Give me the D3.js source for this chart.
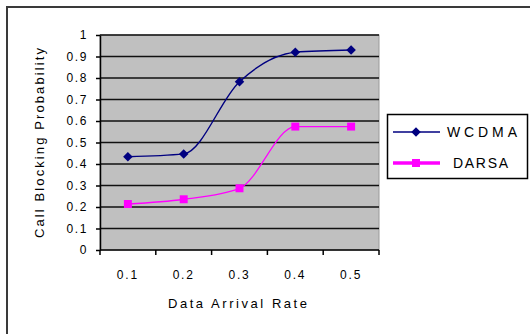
<!DOCTYPE html>
<html>
<head>
<meta charset="utf-8">
<script src="https://cdn.jsdelivr.net/npm/d3@7"></script>
<style>
  html, body { margin: 0; padding: 0; background: #fff; }
  svg { display: block; font-family: Arial, "Liberation Sans", sans-serif; }
</style>
</head>
<body>
<svg id="chart" width="530" height="334"></svg>
<script>
// Data arrival rate categories
const categories = ["0.1", "0.2", "0.3", "0.4", "0.5"];
// Call blocking probability per scheme
const wcdma = [0.434, 0.447, 0.783, 0.92, 0.93];
const darsa = [0.214, 0.236, 0.287, 0.574, 0.574];
const seriesNames = ["WCDMA", "DARSA"];
const yTicks = [0, 0.1, 0.2, 0.3, 0.4, 0.5, 0.6, 0.7, 0.8, 0.9, 1];
const yTickLabels = ["0", "0.1", "0.2", "0.3", "0.4", "0.5", "0.6", "0.7", "0.8", "0.9", "1"];

const svg = d3.select("#chart");
const plot = { left: 100, right: 379, top: 35, bottom: 250 };

// outer chart frame (only top and left edges fall inside the window)
svg.append("rect")
  .attr("x", 7).attr("y", 7)
  .attr("width", 600).attr("height", 400)
  .attr("fill", "none").attr("stroke", "#3a3a3a").attr("stroke-width", 2);

const x = d3.scaleBand().domain(categories).range([plot.left, plot.right]).padding(0);
const y = d3.scaleLinear().domain([0, 1]).range([plot.bottom, plot.top]);

// plot background
svg.append("rect")
  .attr("x", plot.left).attr("y", plot.top)
  .attr("width", plot.right - plot.left).attr("height", plot.bottom - plot.top)
  .attr("fill", "#c0c0c0").attr("stroke", "#9a9a9a").attr("stroke-width", 1);

// horizontal gridlines
svg.append("g").selectAll("line")
  .data(yTicks.filter(d => d > 0))
  .join("line")
  .attr("x1", plot.left).attr("x2", plot.right)
  .attr("y1", d => y(d)).attr("y2", d => y(d))
  .attr("stroke", "#111").attr("stroke-width", 1.5);

// y axis
const yAxis = svg.append("g")
  .attr("transform", `translate(${plot.left},0)`)
  .call(d3.axisLeft(y).tickValues(yTicks).tickFormat((d, i) => yTickLabels[i]).tickSize(4).tickPadding(8).tickSizeOuter(0));
yAxis.select(".domain").attr("stroke", "#000").attr("stroke-width", 1.5);
yAxis.selectAll(".tick line").attr("stroke", "#000").attr("stroke-width", 1.5);
yAxis.selectAll(".tick text")
  .attr("font-size", 12).attr("fill", "#000")
  .style("letter-spacing", "1.6px");

// x axis: ticks on category boundaries, labels at category centres
const xAxisG = svg.append("g").attr("transform", `translate(0,${plot.bottom})`);
xAxisG.append("line")
  .attr("x1", plot.left).attr("x2", plot.right)
  .attr("stroke", "#000").attr("stroke-width", 1.5);
const boundaries = categories.map(c => x(c)).concat([x(categories[categories.length - 1]) + x.bandwidth()]);
xAxisG.selectAll("line.tk")
  .data(boundaries)
  .join("line").attr("class", "tk")
  .attr("x1", d => d).attr("x2", d => d)
  .attr("y1", 0).attr("y2", 5)
  .attr("stroke", "#000").attr("stroke-width", 1.5);
xAxisG.selectAll("text")
  .data(categories)
  .join("text")
  .attr("x", d => x(d) + x.bandwidth() / 2)
  .attr("y", 29)
  .attr("text-anchor", "middle")
  .attr("font-size", 12).attr("fill", "#000")
  .style("letter-spacing", "1.8px")
  .text(d => d);

// axis titles
svg.append("text")
  .attr("x", 168).attr("y", 308)
  .attr("font-size", 13).attr("fill", "#000")
  .attr("textLength", 139).attr("lengthAdjust", "spacing")
  .text("Data Arrival Rate");

svg.append("text")
  .attr("transform", "translate(44,238) rotate(-90)")
  .attr("font-size", 13).attr("fill", "#000")
  .attr("textLength", 190).attr("lengthAdjust", "spacing")
  .text("Call Blocking Probability");

// series lines (smoothed, no overshoot on the plateaus)
const cx = d => x(d) + x.bandwidth() / 2;
const line = d3.line()
  .x(d => cx(d.cat))
  .y(d => y(d.v))
  .curve(d3.curveMonotoneX);

const series = [
  { name: seriesNames[0], values: wcdma, color: "#000080", width: 1.4, marker: "diamond" },
  { name: seriesNames[1], values: darsa, color: "#ff00ff", width: 1.3, marker: "square" }
];

const markerPath = m => m === "diamond"
  ? d3.symbol().type(d3.symbolDiamond2).size(58)()
  : d3.symbol().type(d3.symbolSquare2).size(81)();

series.forEach(s => {
  const pts = categories.map((c, i) => ({ cat: c, v: s.values[i] }));
  svg.append("path")
    .datum(pts)
    .attr("d", line)
    .attr("fill", "none")
    .attr("stroke", s.color)
    .attr("stroke-width", s.width);
  svg.append("g").selectAll("path")
    .data(pts)
    .join("path")
    .attr("transform", d => `translate(${cx(d.cat)},${y(d.v)})`)
    .attr("d", markerPath(s.marker))
    .attr("fill", s.color);
});

// legend
const legend = svg.append("g");
legend.append("rect")
  .attr("x", 387.5).attr("y", 114.5)
  .attr("width", 140).attr("height", 64)
  .attr("fill", "#fff").attr("stroke", "#000").attr("stroke-width", 1.5);

const legendRows = [
  { s: series[0], y: 132, lw: 1.5, tx: 447, tl: 70 },
  { s: series[1], y: 163, lw: 3.5, tx: 453, tl: 55 }
];
legendRows.forEach(r => {
  legend.append("line")
    .attr("x1", 393).attr("x2", 440)
    .attr("y1", r.y).attr("y2", r.y)
    .attr("stroke", r.s.color).attr("stroke-width", r.lw);
  legend.append("path")
    .attr("transform", `translate(416,${r.y})`)
    .attr("d", markerPath(r.s.marker))
    .attr("fill", r.s.color);
  legend.append("text")
    .attr("x", r.tx).attr("y", r.y + 5)
    .attr("font-size", 14).attr("fill", "#000")
    .attr("textLength", r.tl).attr("lengthAdjust", "spacing")
    .text(r.s.name);
});
</script>
</body>
</html>
